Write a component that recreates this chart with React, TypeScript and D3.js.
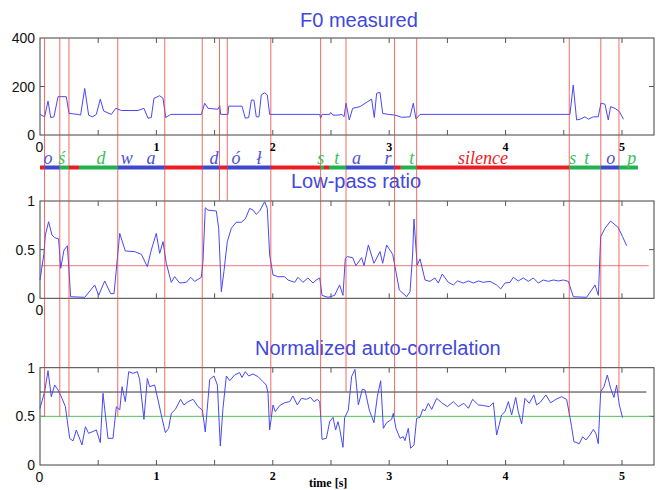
import React from 'react';
import * as d3 from 'd3';

// F0 contour (Hz)
const f0Time = [0, 0.04, 0.069, 0.092, 0.12, 0.155, 0.226, 0.249, 0.326, 0.349, 0.384, 0.418, 0.45, 0.484, 0.518, 0.547, 0.613, 0.65, 0.699, 0.842, 0.893, 0.928, 0.956, 0.979, 1.028, 1.057, 1.08, 1.123, 1.386, 1.415, 1.443, 1.529, 1.544, 1.552, 1.615, 1.621, 1.735, 1.764, 1.793, 1.816, 1.838, 1.858, 1.881, 1.901, 1.93, 1.953, 1.973, 2.403, 2.411, 2.423, 2.489, 2.497, 2.517, 2.56, 2.594, 2.612, 2.629, 2.657, 2.686, 2.749, 2.849, 2.872, 2.892, 2.921, 2.944, 2.993, 3.05, 3.107, 3.179, 3.207, 3.23, 3.265, 4.553, 4.581, 4.61, 4.639, 4.682, 4.711, 4.753, 4.796, 4.819, 4.854, 4.882, 4.902, 4.94, 4.977, 5.012];
const f0Hz = [85, 75, 140, 72, 75, 158, 158, 89, 85, 82, 192, 82, 75, 85, 148, 99, 85, 110, 101, 101, 110, 69, 72, 151, 162, 151, 72, 85, 85, 131, 110, 106, 121, 85, 85, 119, 119, 69, 72, 144, 144, 75, 75, 165, 174, 165, 85, 85, 69, 85, 85, 93, 82, 82, 85, 75, 131, 62, 110, 117, 148, 72, 172, 176, 89, 85, 82, 73, 75, 131, 66, 85, 85, 206, 62, 65, 75, 65, 75, 75, 131, 127, 62, 117, 110, 97, 65];

// low-pass energy ratio
const lpTime = [0, 0.034, 0.046, 0.074, 0.103, 0.126, 0.16, 0.178, 0.206, 0.235, 0.249, 0.263, 0.384, 0.47, 0.504, 0.556, 0.607, 0.636, 0.685, 0.733, 0.813, 0.871, 0.922, 0.956, 0.999, 1.028, 1.057, 1.085, 1.128, 1.157, 1.2, 1.257, 1.294, 1.329, 1.386, 1.4, 1.42, 1.443, 1.515, 1.535, 1.558, 1.58, 1.609, 1.644, 1.686, 1.729, 1.764, 1.801, 1.83, 1.858, 1.887, 1.93, 1.953, 1.973, 2.002, 2.044, 2.102, 2.13, 2.188, 2.216, 2.259, 2.302, 2.345, 2.374, 2.403, 2.423, 2.474, 2.531, 2.574, 2.603, 2.623, 2.64, 2.686, 2.714, 2.763, 2.784, 2.821, 2.869, 2.921, 2.944, 2.978, 3.03, 3.05, 3.087, 3.15, 3.179, 3.201, 3.213, 3.23, 3.241, 3.265, 3.308, 3.35, 3.393, 3.422, 3.456, 3.508, 3.551, 3.586, 3.637, 3.68, 3.723, 3.766, 3.809, 3.866, 3.923, 3.958, 3.995, 4.038, 4.066, 4.109, 4.152, 4.195, 4.238, 4.281, 4.324, 4.367, 4.41, 4.453, 4.496, 4.539, 4.582, 4.696, 4.739, 4.768, 4.797, 4.817, 4.854, 4.902, 4.968, 5.005, 5.04];
const lpRatio = [0.188, 0.462, 0.65, 0.787, 0.65, 0.623, 0.61, 0.308, 0.496, 0.54, 0.29, 0.016, 0.01, 0.137, 0.03, 0.178, 0.048, 0.048, 0.668, 0.486, 0.48, 0.452, 0.325, 0.496, 0.668, 0.462, 0.582, 0.36, 0.164, 0.222, 0.157, 0.164, 0.216, 0.174, 0.216, 0.377, 0.931, 0.907, 0.897, 0.72, 0.068, 0.274, 0.582, 0.72, 0.781, 0.781, 0.815, 0.924, 0.907, 0.863, 0.897, 0.993, 0.924, 0.445, 0.24, 0.222, 0.222, 0.188, 0.164, 0.216, 0.164, 0.209, 0.157, 0.188, 0.209, 0.03, 0.01, 0.03, 0.137, 0.03, 0.41, 0.428, 0.418, 0.335, 0.418, 0.335, 0.548, 0.36, 0.48, 0.36, 0.548, 0.452, 0.325, 0.085, 0.016, 0.068, 0.445, 0.815, 0.514, 0.342, 0.405, 0.188, 0.174, 0.209, 0.157, 0.25, 0.164, 0.137, 0.178, 0.157, 0.178, 0.157, 0.178, 0.164, 0.174, 0.137, 0.096, 0.157, 0.164, 0.216, 0.178, 0.209, 0.174, 0.209, 0.157, 0.188, 0.174, 0.188, 0.178, 0.188, 0.174, 0.016, 0.01, 0.085, 0.137, 0.03, 0.633, 0.72, 0.794, 0.727, 0.633, 0.54];
const lpThreshold = 0.335;

// normalized auto-correlation
const acTime = [0, 0.04, 0.069, 0.097, 0.126, 0.155, 0.189, 0.218, 0.255, 0.284, 0.312, 0.361, 0.39, 0.418, 0.484, 0.518, 0.541, 0.584, 0.627, 0.656, 0.685, 0.705, 0.733, 0.762, 0.799, 0.836, 0.856, 0.893, 0.922, 0.942, 0.985, 1.014, 1.042, 1.077, 1.105, 1.128, 1.163, 1.208, 1.237, 1.272, 1.315, 1.358, 1.395, 1.42, 1.458, 1.495, 1.524, 1.549, 1.572, 1.601, 1.63, 1.672, 1.715, 1.735, 1.764, 1.793, 1.83, 1.873, 1.916, 1.944, 1.959, 1.973, 2.002, 2.022, 2.059, 2.102, 2.145, 2.173, 2.211, 2.245, 2.288, 2.325, 2.354, 2.382, 2.403, 2.411, 2.423, 2.46, 2.489, 2.517, 2.54, 2.56, 2.574, 2.603, 2.617, 2.649, 2.677, 2.706, 2.735, 2.769, 2.792, 2.829, 2.869, 2.898, 2.927, 2.95, 2.978, 3.021, 3.035, 3.058, 3.093, 3.121, 3.135, 3.164, 3.184, 3.213, 3.236, 3.265, 3.288, 3.308, 3.336, 3.365, 3.408, 3.451, 3.5, 3.551, 3.594, 3.642, 3.68, 3.717, 3.766, 3.809, 3.86, 3.895, 3.923, 3.966, 3.995, 4.024, 4.052, 4.087, 4.109, 4.138, 4.166, 4.203, 4.243, 4.266, 4.295, 4.346, 4.387, 4.432, 4.481, 4.524, 4.547, 4.567, 4.587, 4.633, 4.662, 4.69, 4.725, 4.754, 4.776, 4.796, 4.817, 4.845, 4.874, 4.902, 4.931, 4.954, 4.977, 5.005];
const acValue = [0.583, 0.753, 0.969, 0.702, 0.822, 0.771, 0.685, 0.6, 0.274, 0.247, 0.36, 0.206, 0.394, 0.325, 0.36, 0.229, 0.737, 0.274, 0.274, 0.6, 0.565, 0.805, 0.651, 0.959, 0.942, 0.959, 0.88, 0.469, 0.889, 0.805, 0.822, 0.668, 0.514, 0.332, 0.377, 0.531, 0.572, 0.675, 0.617, 0.651, 0.675, 0.6, 0.565, 0.339, 0.88, 0.915, 0.822, 0.195, 0.583, 0.915, 0.867, 0.925, 0.949, 0.9, 0.959, 0.915, 0.935, 0.908, 0.856, 0.822, 0.737, 0.36, 0.617, 0.548, 0.611, 0.64, 0.651, 0.709, 0.617, 0.685, 0.675, 0.695, 0.651, 0.675, 0.651, 0.514, 0.264, 0.274, 0.445, 0.49, 0.36, 0.445, 0.377, 0.182, 0.486, 0.565, 0.908, 0.983, 0.617, 0.778, 0.771, 0.565, 0.435, 0.702, 0.867, 0.377, 0.435, 0.469, 0.531, 0.377, 0.274, 0.291, 0.25, 0.377, 0.172, 0.206, 0.48, 0.49, 0.572, 0.558, 0.634, 0.572, 0.685, 0.64, 0.6, 0.651, 0.6, 0.634, 0.583, 0.675, 0.617, 0.611, 0.6, 0.64, 0.308, 0.514, 0.548, 0.651, 0.514, 0.695, 0.548, 0.421, 0.685, 0.634, 0.72, 0.617, 0.64, 0.72, 0.64, 0.675, 0.702, 0.675, 0.531, 0.394, 0.24, 0.219, 0.291, 0.257, 0.308, 0.366, 0.325, 0.219, 0.753, 0.805, 0.925, 0.788, 0.695, 0.822, 0.617, 0.486];
const acUpper = 0.75;
const acLower = 0.5;

// segment boundaries: where each marker stops (panel 2 top or a level in panel 3)
const boundaryTimes = [0.039, 0.17, 0.249, 0.668, 1.072, 1.394, 1.542, 1.609, 1.983, 2.411, 2.629, 3.046, 3.236, 4.547, 4.818, 4.974];
const boundaryStop = [0.5, 0.5, 0.5, 0.5, 0.5, 0.5, -1, -1, 0.5, 0.5, 0.75, 0.5, 0.5, 0.5, 0.75, 0.75];

// segmentation bar
const segStarts = [0, 0.039, 0.17, 0.249, 0.335, 0.668, 1.072, 1.394, 1.542, 1.609, 1.983, 2.411, 2.44, 2.483, 2.629, 3.046, 3.1, 3.236, 4.547, 4.818, 4.974];
const segEnd = 5.137;
const segKinds = ['p', 'v', 'c', 'p', 'c', 'v', 'p', 'v', 'p', 'v', 'p', 'c', 'p', 'c', 'v', 'p', 'c', 'p', 'c', 'v', 'c'];

const phoneText = ['o', 'ś', 'd', 'w', 'a', 'd', 'ó', 'ł', 's', 't', 'a', 'r', 't', 'silence', 's', 't', 'o', 'p'];
const phoneTime = [0.069, 0.186, 0.524, 0.745, 0.954, 1.495, 1.684, 1.881, 2.412, 2.55, 2.72, 2.99, 3.193, 3.806, 4.577, 4.697, 4.903, 5.083];
const phoneKinds = ['v', 'c', 'c', 'v', 'v', 'v', 'v', 'v', 'c', 'c', 'v', 'v', 'c', 'p', 'c', 'c', 'v', 'c'];

const timeTicks = [0.5, 1, 1.5, 2, 2.5, 3, 3.5, 4, 4.5, 5];
const timeLabels = [1, 2, 3, 4, 5];
const f0Ticks = [0, 200, 400];
const ratioTicks = [0, 0.5, 1];

const kindColor: Record<string, string> = { p: '#ed1c24', v: '#3f48cc', c: '#22b14c' };
const labelColor: Record<string, string> = { p: '#ed1c24', v: '#4a52d8', c: '#3cbf5c' };
const curveColor = '#4848f8';
const titleColor = '#3f48dd';
const frameColor = '#404040';
const sans = 'Arial, "Liberation Sans", sans-serif';
const serif = '"Times New Roman", "Liberation Serif", serif';

const x = d3.scaleLinear().domain([0, 5.275]).range([40, 654]);
const yF0 = d3.scaleLinear().domain([0, 400]).range([135, 38]);
const yLp = d3.scaleLinear().domain([0, 1]).range([298.3, 201]);
const yAc = d3.scaleLinear().domain([0, 1]).range([465, 367.7]);

function Frame({ y, ticks }: { y: d3.ScaleLinear<number, number>; ticks: number[] }) {
  const [b, t] = y.range();
  const [l, r] = x.range();
  return (
    <g>
      <rect x={l} y={t} width={r - l} height={b - t} fill="none" stroke={frameColor} strokeWidth={1} />
      {timeTicks.map((d) => (
        <g key={d} stroke="#555">
          <line x1={x(d)} x2={x(d)} y1={t} y2={t + 5} />
          <line x1={x(d)} x2={x(d)} y1={b} y2={b - 5} />
        </g>
      ))}
      {ticks.slice(1, -1).map((d) => (
        <g key={d} stroke="#555">
          <line x1={l} x2={l + 5} y1={y(d)} y2={y(d)} />
          <line x1={r} x2={r - 5} y1={y(d)} y2={y(d)} />
        </g>
      ))}
      {ticks.map((d) => (
        <text key={d} x={35} y={y(d)} dy="0.36em" textAnchor="end" fontFamily={sans} fontSize={14} fill="#111">
          {d}
        </text>
      ))}
    </g>
  );
}

function curve(ts: number[], vs: number[], y: d3.ScaleLinear<number, number>) {
  const pts = ts.map((t, i) => [t, vs[i]] as [number, number]);
  return d3.line<[number, number]>().x((d) => x(d[0])).y((d) => y(d[1]))(pts) || '';
}

export default function App() {
  const top = yF0(400);
  return (
    <svg width={663} height={490} style={{ position: 'absolute', left: 0, top: 0, background: '#fff' }}>
      {/* titles */}
      <text x={300} y={27} fontFamily={sans} fontSize={20} fill={titleColor}>F0 measured</text>
      <text x={291} y={188} fontFamily={sans} fontSize={20} fill={titleColor}>Low-pass ratio</text>
      <text x={255} y={355} fontFamily={sans} fontSize={20} fill={titleColor}>Normalized auto-correlation</text>

      <Frame y={yF0} ticks={f0Ticks} />
      <Frame y={yLp} ticks={ratioTicks} />
      <Frame y={yAc} ticks={ratioTicks} />

      {/* threshold lines */}
      <line x1={x(0)} x2={x(5.23)} y1={yLp(lpThreshold)} y2={yLp(lpThreshold)} stroke="#f07878" />
      <line x1={x(0)} x2={x(5.21)} y1={yAc(acUpper)} y2={yAc(acUpper)} stroke="#333" />
      <line x1={x(0)} x2={x(5.25)} y1={yAc(acLower)} y2={yAc(acLower)} stroke="#4cc35c" />

      {/* curves */}
      <path d={curve(f0Time, f0Hz, yF0)} fill="none" stroke={curveColor} strokeWidth={1} />
      <path d={curve(lpTime, lpRatio, yLp)} fill="none" stroke={curveColor} strokeWidth={1} />
      <path d={curve(acTime, acValue, yAc)} fill="none" stroke={curveColor} strokeWidth={1} />

      {/* segment boundaries */}
      {boundaryTimes.map((t, i) => (
        <line
          key={t}
          x1={x(t)}
          x2={x(t)}
          y1={top}
          y2={boundaryStop[i] < 0 ? yLp(1) : yAc(boundaryStop[i])}
          stroke="#f03838"
          strokeOpacity={0.75}
        />
      ))}

      {/* segmentation bar */}
      {segStarts.map((s, i) => {
        const e = i + 1 < segStarts.length ? segStarts[i + 1] : segEnd;
        return <rect key={s} x={x(s)} y={165.5} width={x(e) - x(s)} height={4} fill={kindColor[segKinds[i]]} />;
      })}
      {phoneText.map((p, i) => (
        <text
          key={i}
          x={x(phoneTime[i])}
          y={164}
          textAnchor="middle"
          fontFamily={serif}
          fontStyle="italic"
          fontSize={18}
          fill={labelColor[phoneKinds[i]]}
        >
          {p}
        </text>
      ))}

      {/* time labels */}
      <text x={39.5} y={152} textAnchor="middle" fontFamily={sans} fontSize={14} fill="#111">0</text>
      <text x={39.5} y={315} textAnchor="middle" fontFamily={sans} fontSize={14} fill="#111">0</text>
      <text x={39.5} y={482} textAnchor="middle" fontFamily={sans} fontSize={14} fill="#111">0</text>
      {timeLabels.map((d) => (
        <g key={d} fontFamily={serif} fontWeight="bold" fontSize={12} fill="#000" textAnchor="middle">
          <text x={x(d)} y={151}>{d}</text>
          <text x={x(d)} y={480}>{d}</text>
        </g>
      ))}
      <text x={309} y={487} fontFamily={serif} fontWeight="bold" fontSize={12} fill="#000">time [s]</text>
    </svg>
  );
}
